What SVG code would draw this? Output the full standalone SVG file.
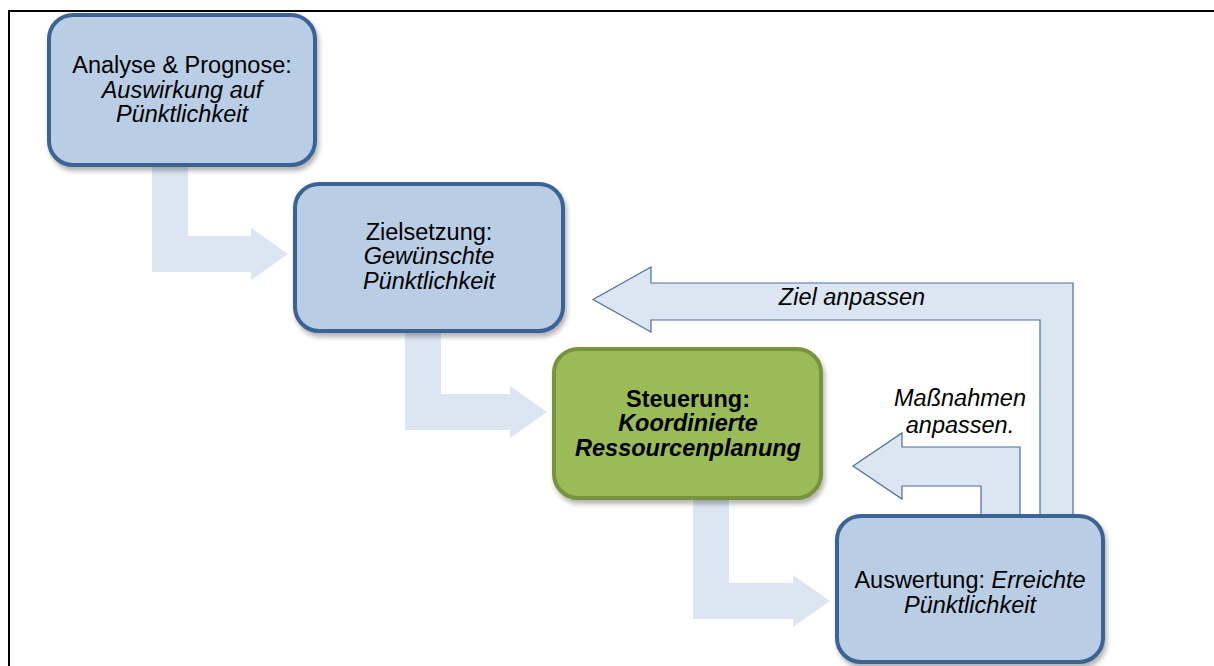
<svg xmlns="http://www.w3.org/2000/svg" width="1214" height="666" viewBox="0 0 1214 666">
  <style>
    .box { fill: #b9cde5; stroke: #3a6394; stroke-width: 4; }
    .green { fill: #9bbb59; stroke: #77933c; stroke-width: 4; }
    .flow { fill: #dce6f2; stroke: none; }
    .back { fill: #dce6f2; stroke: #4a6e9e; stroke-width: 1.2; stroke-linejoin: miter; }
    text { font-family: "Liberation Sans", Arial, sans-serif; font-size: 23.5px; fill: #000; text-anchor: middle; }
    .it { font-style: italic; }
    .b { font-weight: bold; }
  </style>
  <defs>
    <filter id="shadow" x="-10%" y="-10%" width="125%" height="130%">
      <feGaussianBlur in="SourceAlpha" stdDeviation="2.5"/>
      <feOffset dx="2" dy="4" result="off"/>
      <feComponentTransfer><feFuncA type="linear" slope="0.3"/></feComponentTransfer>
      <feMerge><feMergeNode/><feMergeNode in="SourceGraphic"/></feMerge>
    </filter>
  </defs>

  <rect x="0" y="0" width="1214" height="666" fill="#fff"/>
  <!-- frame: only top and left edges fall inside the canvas -->
  <rect x="9" y="11" width="1230" height="700" fill="none" stroke="#000" stroke-width="2"/>

  <g id="connectors">
    <!-- forward flow arrows -->
    <path class="flow" d="M152,165 H188 V236 H251 V228 L288,254 L251,280 V272 H152 Z"/>
    <path class="flow" d="M405,331 H441 V394 H510 V386 L547,412 L510,438 V430 H405 Z"/>
    <path class="flow" d="M693,498 H729 V583 H793 V575 L830,601 L793,627 V619 H693 Z"/>
    <!-- feedback arrows -->
    <path class="back" d="M593,299.5 L651,267 V283 H1073 V516 H1040 V320 H651 V332 Z"/>
    <path class="back" d="M853,466 L902,433 V447 H1020 V516 H981 V486 H902 V499 Z"/>
    <text class="it" x="852" y="305">Ziel anpassen</text>
    <text class="it" x="960" y="406">Maßnahmen</text>
    <text class="it" x="960" y="433">anpassen.</text>
  </g>

  <g id="analyse">
    <rect class="box" x="49" y="15" width="266" height="150" rx="24" filter="url(#shadow)"/>
    <text x="182" y="73">Analyse &amp; Prognose:</text>
    <text class="it" x="182" y="97.5">Auswirkung auf</text>
    <text class="it" x="182" y="122">Pünktlichkeit</text>
  </g>

  <g id="zielsetzung">
    <rect class="box" x="295" y="184" width="268" height="147" rx="24" filter="url(#shadow)"/>
    <text x="429" y="239.5">Zielsetzung:</text>
    <text class="it" x="429" y="264">Gewünschte</text>
    <text class="it" x="429" y="288.5">Pünktlichkeit</text>
  </g>

  <g id="steuerung">
    <rect class="green" x="554" y="349" width="267" height="149" rx="24" filter="url(#shadow)"/>
    <text class="b" x="688" y="406.5">Steuerung:</text>
    <text class="b it" x="688" y="431">Koordinierte</text>
    <text class="b it" x="688" y="455.5">Ressourcenplanung</text>
  </g>

  <g id="auswertung">
    <rect class="box" x="837" y="516" width="266" height="146" rx="24" filter="url(#shadow)"/>
    <text x="970" y="588">Auswertung: <tspan class="it">Erreichte</tspan></text>
    <text class="it" x="970" y="612.5">Pünktlichkeit</text>
  </g>
</svg>
